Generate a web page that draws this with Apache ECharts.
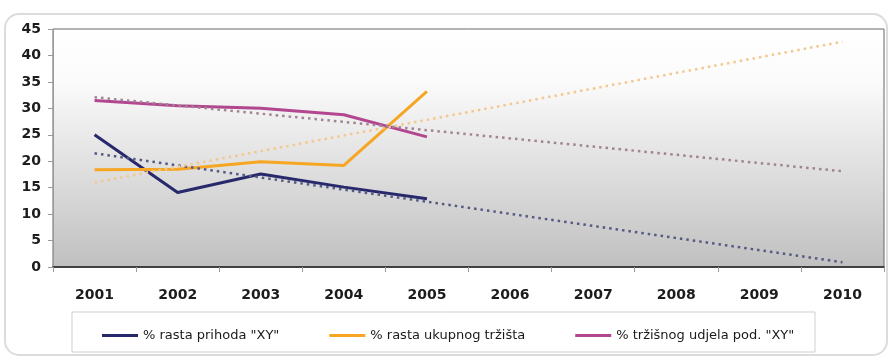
<!DOCTYPE html>
<html>
<head>
<meta charset="utf-8">
<script src="https://cdn.jsdelivr.net/npm/echarts@6/dist/echarts.min.js"></script>
<style>
  html, body { margin: 0; padding: 0; background: #ffffff; }
  #chart { width: 891px; height: 358px; }
</style>
</head>
<body>
<div id="chart"></div>
<script>
// Years on the category axis
const years = ['2001', '2002', '2003', '2004', '2005', '2006', '2007', '2008', '2009', '2010'];

// Measured values 2001-2005 (percent)
const rastPrihoda = [25, 14.1, 17.6, 15.1, 12.9];
const rastTrzista = [18.4, 18.5, 19.9, 19.2, 33.2];
const trzisniUdjel = [31.5, 30.5, 30, 28.8, 24.6];

// Linear trend lines: value in 2001 and value in 2010
const trendPrihoda = [21.5, 0.9];
const trendTrzista = [16, 42.6];
const trendUdjela = [32.1, 18.1];

const names = ['% rasta prihoda "XY"', '% rasta ukupnog tržišta', '% tržišnog udjela pod. "XY"'];
const colors = ['#28286c', '#f6a623', '#b2478f'];
const trendColors = ['#565a82', '#f3c88e', '#a08494'];

function padSeries(vals) {
  const out = vals.slice();
  while (out.length < years.length) out.push(null);
  return out;
}
function trendSeries(ends) {
  const out = years.map(() => null);
  out[0] = ends[0];
  out[years.length - 1] = ends[1];
  return out;
}

const chart = echarts.init(document.getElementById('chart'), null, { renderer: 'canvas' });

const font = 'DejaVu Sans';

const mainSeries = [rastPrihoda, rastTrzista, trzisniUdjel].map((vals, i) => ({
  name: names[i],
  type: 'line',
  data: padSeries(vals),
  symbol: 'none',
  z: 3,
  lineStyle: { color: colors[i], width: 3 },
  itemStyle: { color: colors[i] }
}));

const trends = [trendPrihoda, trendTrzista, trendUdjela].map((ends, i) => ({
  name: 'trend' + i,
  type: 'line',
  data: trendSeries(ends),
  connectNulls: true,
  symbol: 'none',
  z: 4,
  lineStyle: { color: trendColors[i], width: 2.5, type: [2.5, 4] }
}));

chart.setOption({
  animation: false,
  backgroundColor: '#ffffff',
  graphic: [
    {
      type: 'rect',
      shape: { x: 5, y: 14, width: 882, height: 341, r: 14 },
      style: { fill: 'none', stroke: '#dcdcdc', lineWidth: 2 },
      silent: true,
      z: -10
    },
    {
      type: 'rect',
      shape: { x: 72, y: 312, width: 743, height: 40 },
      style: { fill: '#ffffff', stroke: '#cfcfcf', lineWidth: 1 },
      silent: true,
      z: -5
    }
  ],
  grid: {
    left: 53, top: 29, right: 7, bottom: 91,
    show: true,
    borderColor: '#666666',
    borderWidth: 1,
    backgroundColor: new echarts.graphic.LinearGradient(0, 0, 0, 1, [
      { offset: 0, color: '#ffffff' },
      { offset: 0.22, color: '#fbfbfb' },
      { offset: 0.55, color: '#e2e2e2' },
      { offset: 1, color: '#c0c0c0' }
    ])
  },
  legend: {
    data: names,
    left: 97,
    top: 324,
    itemGap: 50,
    itemWidth: 36,
    itemHeight: 3,
    icon: 'rect',
    textStyle: { fontFamily: font, fontSize: 13, color: '#1a1a1a' }
  },
  xAxis: {
    type: 'category',
    data: years,
    boundaryGap: true,
    axisLine: { show: true, lineStyle: { color: '#222222', width: 1.5 } },
    axisTick: { show: true, length: 5, lineStyle: { color: '#999999' } },
    axisLabel: { fontFamily: font, fontSize: 14, fontWeight: 'bold', color: '#1c1c1c', margin: 21 },
    splitLine: { show: false }
  },
  yAxis: {
    type: 'value',
    min: 0, max: 45, interval: 5,
    axisLine: { show: true, lineStyle: { color: '#999999' } },
    axisTick: { show: true, length: 5, lineStyle: { color: '#999999' } },
    axisLabel: { fontFamily: font, fontSize: 14, fontWeight: 'bold', color: '#1c1c1c', margin: 12 },
    splitLine: { show: false }
  },
  series: mainSeries.concat(trends)
});
</script>
</body>
</html>
